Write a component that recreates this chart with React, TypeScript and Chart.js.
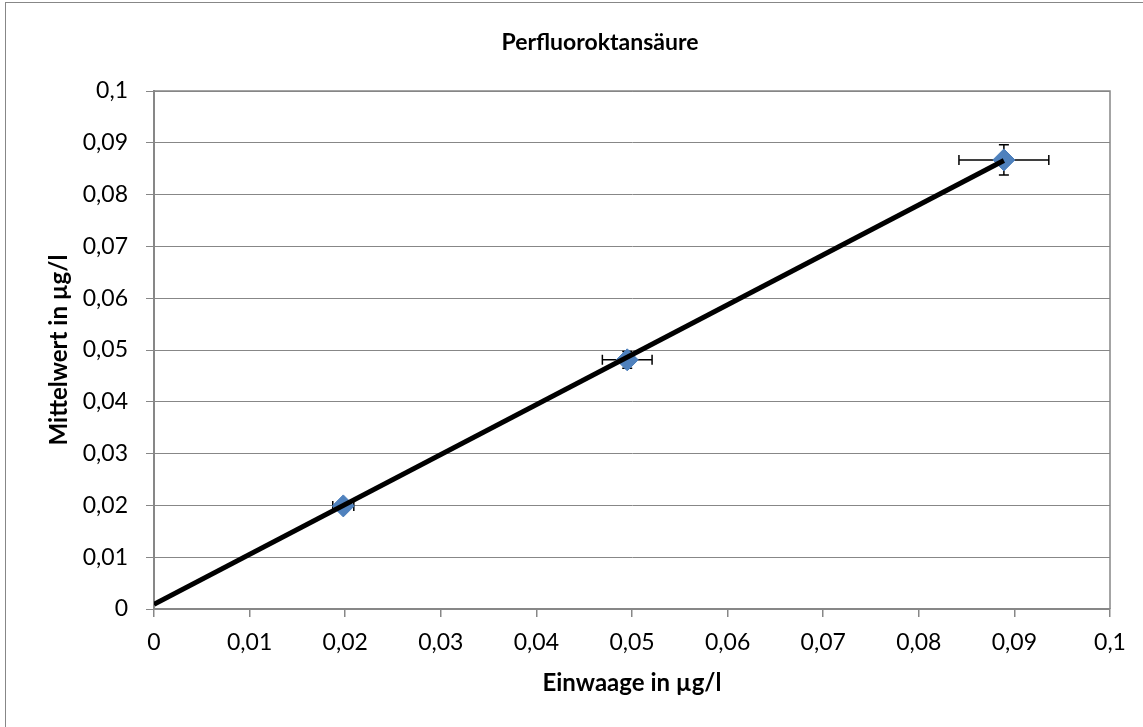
import React, { useEffect, useRef } from 'react';
import { Chart, registerables } from 'chart.js';

Chart.register(...registerables);

const chartTitle = 'Perfluoroktansäure';
const xTitle = 'Einwaage in µg/l';
const yTitle = 'Mittelwert in µg/l';

const einwaage = [0.0198, 0.0495, 0.0889];
const mittelwert = [0.0199, 0.0481, 0.0867];
const einwaageErr = [0.0011, 0.0026, 0.0047];
const mittelwertErr = [0.0003, 0.0016, 0.0029];

const trendX = [0, 0.0889];
const trendY = [0.0009, 0.0866];

const axisTicks = [0, 0.01, 0.02, 0.03, 0.04, 0.05, 0.06, 0.07, 0.08, 0.09, 0.1];

const GRID = '#878787';
const FONT = 'Lato, "Noto Sans", sans-serif';

const fmt = (v: number) => String(Math.round(v * 100) / 100).replace('.', ',');

const framePlugin = {
  id: 'frame',
  beforeDraw(chart: any) {
    const { ctx, width, height } = chart;
    ctx.save();
    ctx.fillStyle = '#ffffff';
    ctx.fillRect(0, 0, width, height);
    ctx.strokeStyle = GRID;
    ctx.lineWidth = 1;
    ctx.strokeRect(5.5, 2.5, width + 20, height + 20);
    ctx.restore();
  },
  beforeDatasetsDraw(chart: any) {
    const { ctx, chartArea: a } = chart;
    ctx.save();
    ctx.strokeStyle = GRID;
    ctx.lineWidth = 1.5;
    ctx.beginPath();
    ctx.moveTo(a.left, a.top);
    ctx.lineTo(a.right, a.top);
    ctx.lineTo(a.right, a.bottom);
    ctx.stroke();
    ctx.restore();
  },
  afterDraw(chart: any) {
    const { ctx } = chart;
    ctx.save();
    ctx.fillStyle = '#000000';
    ctx.font = `bold 23px ${FONT}`;
    ctx.textAlign = 'center';
    ctx.textBaseline = 'alphabetic';
    ctx.fillText(chartTitle, 600, 50);
    ctx.restore();
  },
};

const errorBarPlugin = {
  id: 'errorBars',
  beforeDatasetDraw(chart: any, args: any) {
    if (args.index !== 1) return;
    const { ctx } = chart;
    const x = chart.scales.x;
    const y = chart.scales.y;
    const cap = 5;
    ctx.save();
    ctx.strokeStyle = '#000000';
    ctx.lineWidth = 1.5;
    einwaage.forEach((vx, i) => {
      const vy = mittelwert[i];
      const px = x.getPixelForValue(vx);
      const py = y.getPixelForValue(vy);
      const xl = x.getPixelForValue(vx - einwaageErr[i]);
      const xr = x.getPixelForValue(vx + einwaageErr[i]);
      const yt = y.getPixelForValue(vy + mittelwertErr[i]);
      const yb = y.getPixelForValue(vy - mittelwertErr[i]);
      ctx.beginPath();
      ctx.moveTo(xl, py);
      ctx.lineTo(xr, py);
      ctx.moveTo(xl, py - cap);
      ctx.lineTo(xl, py + cap);
      ctx.moveTo(xr, py - cap);
      ctx.lineTo(xr, py + cap);
      ctx.moveTo(px, yt);
      ctx.lineTo(px, yb);
      ctx.moveTo(px - cap, yt);
      ctx.lineTo(px + cap, yt);
      ctx.moveTo(px - cap, yb);
      ctx.lineTo(px + cap, yb);
      ctx.stroke();
    });
    ctx.restore();
  },
};

export default function App() {
  const ref = useRef<HTMLCanvasElement | null>(null);

  useEffect(() => {
    document.body.style.margin = '0';
    if (!ref.current) return;
    const chart = new Chart(ref.current, {
      type: 'scatter',
      data: {
        datasets: [
          {
            type: 'line',
            label: 'Trend',
            data: trendX.map((vx, i) => ({ x: vx, y: trendY[i] })),
            borderColor: '#000000',
            borderWidth: 5,
            pointRadius: 0,
            showLine: true,
            fill: false,
          } as any,
          {
            type: 'scatter',
            label: 'Mittelwert',
            data: einwaage.map((vx, i) => ({ x: vx, y: mittelwert[i] })),
            pointStyle: 'rectRot',
            pointRadius: 11,
            backgroundColor: '#4F81BD',
            borderColor: '#4A7EBB',
            borderWidth: 1,
          },
        ],
      },
      options: {
        responsive: false,
        animation: false,
        layout: { padding: { left: 0, right: 33, top: 91, bottom: 0 } },
        plugins: {
          legend: { display: false },
          tooltip: { enabled: false },
          title: { display: false },
        },
        scales: {
          x: {
            type: 'linear',
            min: 0,
            max: 0.1,
            afterBuildTicks: (s: any) => {
              s.ticks = axisTicks.map((v) => ({ value: v }));
            },
            afterFit: (s: any) => {
              s.height = 118;
            },
            ticks: {
              callback: (v: any) => fmt(Number(v)),
              color: '#000000',
              font: { family: FONT, size: 23 },
              padding: 12,
              maxRotation: 0,
              autoSkip: false,
            },
            grid: {
              drawOnChartArea: false,
              drawTicks: true,
              tickLength: 8,
              color: GRID,
              lineWidth: 1.5,
            },
            border: { color: GRID, width: 2 },
            title: {
              display: true,
              text: xTitle,
              color: '#000000',
              font: { family: FONT, size: 24, weight: 'bold' },
              padding: { top: 0, bottom: 29 },
            },
          },
          y: {
            type: 'linear',
            min: 0,
            max: 0.1,
            afterBuildTicks: (s: any) => {
              s.ticks = axisTicks.map((v) => ({ value: v }));
            },
            afterFit: (s: any) => {
              s.width = 154;
            },
            ticks: {
              callback: (v: any) => fmt(Number(v)),
              color: '#000000',
              font: { family: FONT, size: 23 },
              padding: 18,
              autoSkip: false,
            },
            grid: {
              drawOnChartArea: true,
              drawTicks: true,
              tickLength: 8,
              color: GRID,
              lineWidth: 1,
            },
            border: { color: GRID, width: 2 },
            title: {
              display: true,
              text: yTitle,
              color: '#000000',
              font: { family: FONT, size: 24, weight: 'bold' },
              padding: { top: 44.5, bottom: 0 },
            },
          },
        },
      },
      plugins: [framePlugin, errorBarPlugin],
    } as any);
    return () => chart.destroy();
  }, []);

  return (
    <div style={{ width: 1143, height: 727 }}>
      <canvas ref={ref} width={1143} height={727} style={{ display: 'block' }} />
    </div>
  );
}
